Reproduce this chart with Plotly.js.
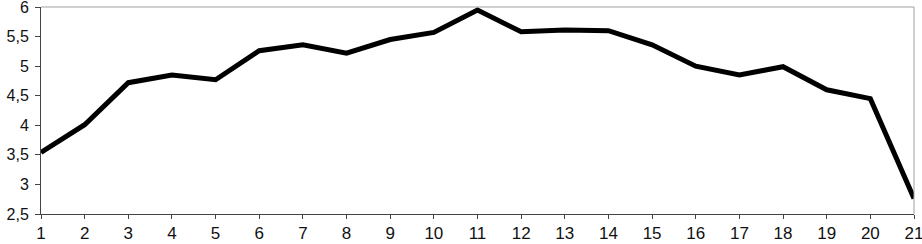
<!DOCTYPE html>
<html>
<head>
<meta charset="utf-8">
<script src="https://cdn.plot.ly/plotly-3.0.1.min.js"></script>
<style>html,body{margin:0;padding:0;background:#fff;}#chart{width:922px;height:244px;}</style>
</head>
<body>
<div id="chart"></div>
<script>
const xValues = [1,2,3,4,5,6,7,8,9,10,11,12,13,14,15,16,17,18,19,20,21];
const yValues = [3.54,4.01,4.72,4.85,4.77,5.26,5.36,5.22,5.45,5.57,5.95,5.58,5.61,5.60,5.36,5.00,4.85,4.99,4.60,4.45,2.76];
const xTicks = xValues;
const yTicks = [2.5,3,3.5,4,4.5,5,5.5,6];

const data = [{
  x: xValues, y: yValues, type: 'scatter', mode: 'lines',
  line: {color: '#000000', width: 5}, hoverinfo: 'none'
}];

const layout = {
  width: 922, height: 244,
  margin: {l: 41, r: 8, t: 7, b: 30, pad: 0},
  paper_bgcolor: '#ffffff', plot_bgcolor: '#ffffff',
  separators: ',.',
  showlegend: false,
  font: {family: 'Liberation Sans, Arial, sans-serif', size: 17, color: '#111'},
  xaxis: {
    range: [1, 21], tickvals: xTicks, ticktext: xTicks.map(String),
    showgrid: false, zeroline: false, showline: true, linecolor: '#444', linewidth: 1,
    ticks: 'outside', ticklen: 4, tickcolor: '#444', tickwidth: 1,
    ticklabeloverflow: 'allow', ticklabelstandoff: 0,
    tickfont: {size: 17}
  },
  yaxis: {
    range: [2.5, 6], tickvals: yTicks, ticktext: yTicks.map(v => String(v).replace('.', ',')),
    showgrid: false, zeroline: false, showline: true, linecolor: '#444', linewidth: 1,
    ticks: 'outside', ticklen: 5, tickcolor: '#444', tickwidth: 1,
    ticklabeloverflow: 'allow', ticklabelstandoff: 3,
    tickfont: {size: 16}
  },
  shapes: [
    {type: 'line', xref: 'paper', yref: 'paper', x0: 0, x1: 1, y0: 1, y1: 1, line: {color: '#a0a0a0', width: 1}},
    {type: 'line', xref: 'paper', yref: 'paper', x0: 1, x1: 1, y0: 0, y1: 1, line: {color: '#a0a0a0', width: 1}}
  ]
};

Plotly.newPlot('chart', data, layout, {staticPlot: true, displayModeBar: false});
</script>
</body>
</html>
